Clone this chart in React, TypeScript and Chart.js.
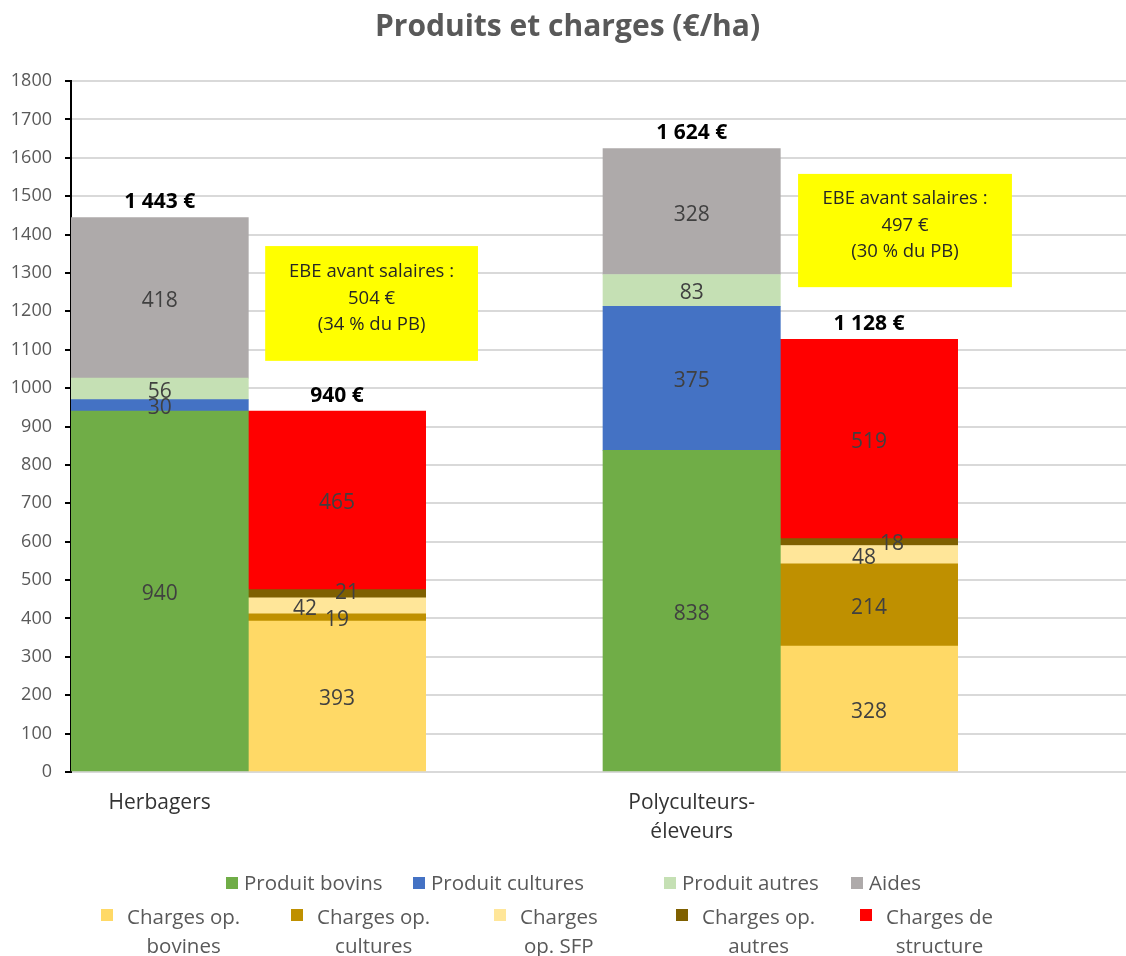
import React, { useEffect, useRef } from "react";
import { Chart, registerables } from "chart.js";

Chart.register(...registerables);

// ---------- data ----------
const categories = ["Herbagers", "Polyculteurs-éleveurs"];
const xTickLabels: (string | string[])[] = ["Herbagers", "", "", ["Polyculteurs-", "éleveurs"], "", ""];

const produitBovins = [940, 838];
const produitCultures = [30, 375];
const produitAutres = [56, 83];
const aides = [418, 328];

const chargesOpBovines = [393, 328];
const chargesOpCultures = [19, 214];
const chargesOpSFP = [42, 48];
const chargesOpAutres = [21, 18];
const chargesStructure = [465, 519];

const produitTotalLabels = ["1 443 €", "1 624 €"];
const chargesTotalLabels = ["940 €", "1 128 €"];
const ebeTexts = [
  ["EBE avant salaires :", "504 €", "(34 % du PB)"],
  ["EBE avant salaires :", "497 €", "(30 % du PB)"],
];

const yMin = 0;
const yMax = 1800;
const yStep = 100;

// ---------- series definitions ----------
const FONT = '"Open Sans", sans-serif';
const SLOTS = 6;

type Series = { label: string; values: number[]; side: 0 | 1; color: string; legendLines: string[] };
const series: Series[] = [
  { label: "Produit bovins", values: produitBovins, side: 0, color: "#70AD47", legendLines: ["Produit bovins"] },
  { label: "Produit cultures", values: produitCultures, side: 0, color: "#4472C4", legendLines: ["Produit cultures"] },
  { label: "Produit autres", values: produitAutres, side: 0, color: "#C5E0B4", legendLines: ["Produit autres"] },
  { label: "Aides", values: aides, side: 0, color: "#AEAAAA", legendLines: ["Aides"] },
  { label: "Charges op. bovines", values: chargesOpBovines, side: 1, color: "#FFD966", legendLines: ["Charges op.", "bovines"] },
  { label: "Charges op. cultures", values: chargesOpCultures, side: 1, color: "#BF9000", legendLines: ["Charges op.", "cultures"] },
  { label: "Charges op. SFP", values: chargesOpSFP, side: 1, color: "#FFE699", legendLines: ["Charges", "op. SFP"] },
  { label: "Charges op. autres", values: chargesOpAutres, side: 1, color: "#7F6000", legendLines: ["Charges op.", "autres"] },
  { label: "Charges de structure", values: chargesStructure, side: 1, color: "#FF0000", legendLines: ["Charges de", "structure"] },
];

// ---------- layout (positions only) ----------
// label nudges in px for small segments: key = seriesIndex:groupIndex
const labelNudges: Record<string, [number, number]> = {
  "6:0": [-32, 0],
  "7:0": [10, -4],
  "6:1": [-5, 0],
  "7:1": [23, -1],
};
// EBE boxes: relative to charge slot (in slot widths) and y values
const ebeBoxLayout = [
  { from: -0.405, to: 0.795, top: 1370, bottom: 1071 },
  { from: -0.4, to: 0.806, top: 1558, bottom: 1263 },
];
const legendRow1 = [
  { i: 0, left: 226 },
  { i: 1, left: 413 },
  { i: 2, left: 664 },
  { i: 3, left: 851 },
];
const legendRow2 = [
  { i: 4, left: 101 },
  { i: 5, left: 291 },
  { i: 6, left: 494 },
  { i: 7, left: 676 },
  { i: 8, left: 860 },
];

function toSlots(values: number[], side: number) {
  const arr: (number | null)[] = new Array(SLOTS).fill(null);
  values.forEach((v, g) => {
    arr[3 * g + side] = v;
  });
  return arr;
}

const sum = (arrs: number[][], g: number) => arrs.reduce((s, a) => s + a[g], 0);

const overlayPlugin = {
  id: "overlay",
  afterDatasetsDraw(chart: any) {
    const ctx = chart.ctx as CanvasRenderingContext2D;
    const xs = chart.scales.x;
    const ys = chart.scales.y;
    const slotW = xs.getPixelForValue(1) - xs.getPixelForValue(0);
    ctx.save();
    ctx.textAlign = "center";
    ctx.textBaseline = "middle";

    // segment value labels
    ctx.font = `21px ${FONT}`;
    ctx.fillStyle = "#404040";
    chart.data.datasets.forEach((ds: any, di: number) => {
      const meta = chart.getDatasetMeta(di);
      meta.data.forEach((el: any, k: number) => {
        const v = ds.data[k];
        if (v == null) return;
        const g = Math.floor(k / 3);
        const n = labelNudges[`${di}:${g}`] || [0, 0];
        ctx.fillText(String(v), el.x + n[0], (el.y + el.base) / 2 + 3 + n[1]);
      });
    });

    // totals
    ctx.font = `bold 21px ${FONT}`;
    ctx.fillStyle = "#000000";
    const prodArrs = series.filter((s) => s.side === 0).map((s) => s.values);
    const chArrs = series.filter((s) => s.side === 1).map((s) => s.values);
    categories.forEach((_, g) => {
      const p = sum(prodArrs, g);
      const c = sum(chArrs, g);
      ctx.fillText(produitTotalLabels[g], xs.getPixelForValue(3 * g), ys.getPixelForValue(p) - 16);
      ctx.fillText(chargesTotalLabels[g], xs.getPixelForValue(3 * g + 1), ys.getPixelForValue(c) - 15);
    });

    // EBE boxes
    ebeBoxLayout.forEach((b, g) => {
      const cx = xs.getPixelForValue(3 * g + 1);
      const x0 = cx + b.from * slotW;
      const x1 = cx + b.to * slotW;
      const y0 = ys.getPixelForValue(b.top);
      const y1 = ys.getPixelForValue(b.bottom);
      ctx.fillStyle = "#FFFF00";
      ctx.fillRect(x0, y0, x1 - x0, y1 - y0);
      ctx.fillStyle = "#262626";
      ctx.font = `18.5px ${FONT}`;
      const lines = ebeTexts[g];
      const lh = 26.5;
      const mid = (y0 + y1) / 2 - 5;
      lines.forEach((t, li) => {
        ctx.fillText(t, (x0 + x1) / 2, mid + (li - (lines.length - 1) / 2) * lh);
      });
    });
    ctx.restore();
  },
  afterDraw(chart: any) {
    const ctx = chart.ctx as CanvasRenderingContext2D;
    ctx.save();
    ctx.font = `bold 30px ${FONT}`;
    ctx.fillStyle = "#595959";
    ctx.textAlign = "center";
    ctx.textBaseline = "alphabetic";
    ctx.fillText("Produits et charges (€/ha)", chart.width / 2, 36);
    ctx.restore();
  },
};

export default function App() {
  const ref = useRef<HTMLCanvasElement>(null);

  useEffect(() => {
    if (!ref.current) return;
    const chart = new Chart(ref.current, {
      type: "bar",
      data: {
        labels: xTickLabels as any,
        datasets: series.map((s) => ({
          label: s.label,
          data: toSlots(s.values, s.side),
          backgroundColor: s.color,
          borderWidth: 0,
          barPercentage: 1,
          categoryPercentage: 1,
          stack: "all",
        })),
      },
      options: {
        responsive: false,
        maintainAspectRatio: false,
        animation: false,
        layout: { padding: { top: 81, right: 0, bottom: 0, left: 0 } },
        plugins: {
          legend: { display: false },
          tooltip: { enabled: false },
          title: { display: false },
        },
        scales: {
          x: {
            stacked: true,
            grid: { display: false, drawTicks: false, tickLength: 0 },
            border: { display: false },
            ticks: {
              autoSkip: false,
              maxRotation: 0,
              minRotation: 0,
              color: "#333333",
              padding: 17,
              font: { family: FONT, size: 21, lineHeight: 1.38 },
            },
            afterFit: (s: any) => {
              s.height = 184;
            },
          },
          y: {
            stacked: true,
            min: yMin,
            max: yMax,
            ticks: {
              stepSize: yStep,
              color: "#595959",
              padding: 13,
              font: { family: FONT, size: 18 },
              callback: (v: any) => String(v),
            },
            grid: { color: "#D9D9D9", lineWidth: 2, tickColor: "#000000", tickLength: 6, drawTicks: true },
            border: { color: "#000000", width: 2 },
            afterFit: (s: any) => {
              s.width = 71;
            },
          },
        },
      },
      plugins: [overlayPlugin],
    });
    let alive = true;
    const fonts = (document as any).fonts;
    if (fonts && fonts.load) {
      Promise.all([fonts.load(`20px "Open Sans"`), fonts.load(`bold 20px "Open Sans"`)]).then(() => {
        if (alive) chart.update();
      });
    }
    return () => {
      alive = false;
      chart.destroy();
    };
  }, []);

  const textStyle: React.CSSProperties = {
    fontFamily: FONT,
    fontSize: 20.5,
    color: "#595959",
    lineHeight: "29px",
    whiteSpace: "nowrap",
  };

  return (
    <div
      style={{
        position: "absolute",
        left: 0,
        top: 0,
        width: 1126,
        height: 956,
        overflow: "hidden",
        background: "#ffffff",
      }}
    >
      <canvas ref={ref} width={1135} height={956} style={{ position: "absolute", left: 0, top: 0 }} />
      {legendRow1.map(({ i, left }) => (
        <div key={i} style={{ position: "absolute", left, top: 868, display: "flex", alignItems: "flex-start" }}>
          <div style={{ width: 12, height: 12, marginTop: 9, background: series[i].color }} />
          <div style={{ ...textStyle, marginLeft: 6 }}>{series[i].legendLines[0]}</div>
        </div>
      ))}
      {legendRow2.map(({ i, left }) => (
        <div key={i} style={{ position: "absolute", left, top: 902, display: "flex", alignItems: "flex-start" }}>
          <div style={{ width: 12, height: 12, marginTop: 7, background: series[i].color }} />
          <div style={{ ...textStyle, marginLeft: 14, textAlign: "center" }}>
            {series[i].legendLines.map((l, k) => (
              <div key={k}>{l}</div>
            ))}
          </div>
        </div>
      ))}
    </div>
  );
}
